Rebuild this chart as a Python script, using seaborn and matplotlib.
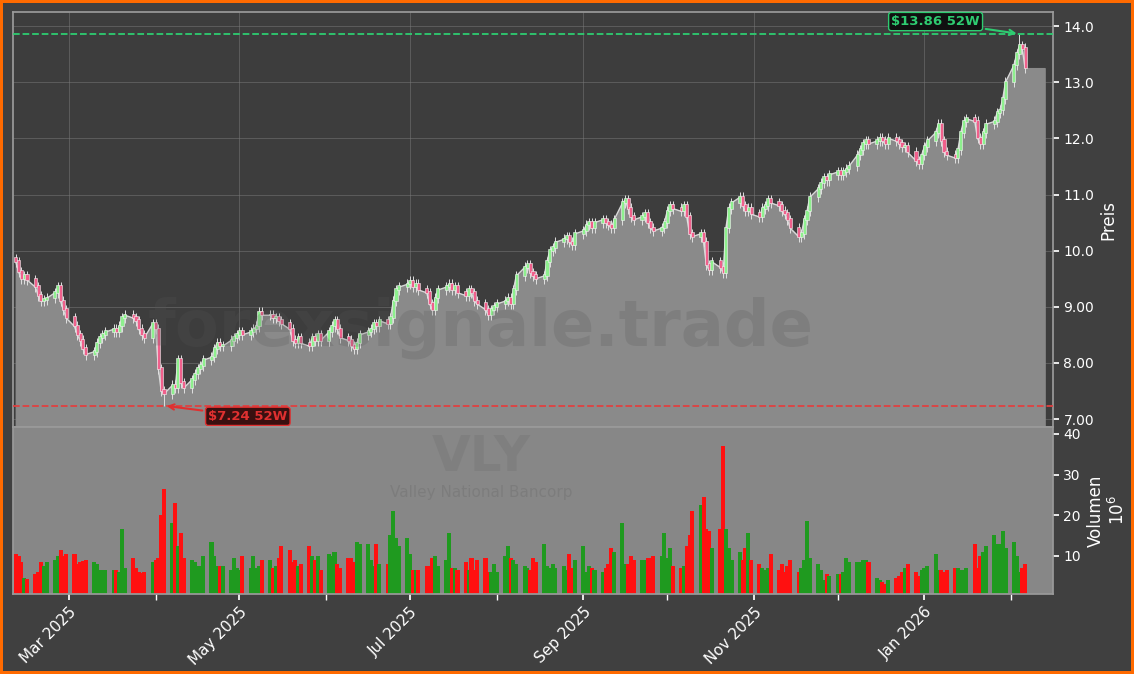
import matplotlib
matplotlib.use("Agg")
import matplotlib.pyplot as plt
import matplotlib.dates as mdates
import matplotlib.ticker as mticker
import numpy as np
import pandas as pd
import seaborn as sns

sns.set_theme(style="dark")
plt.rcParams['font.family'] = ['DejaVu Sans']

# weekly rows of daily closes (Mon-Fri), Feb 10 2025 .. Feb 6 2026
closes = [
    9.80, 9.62, 9.50, 9.55, 9.48,  9.35, 9.20, 9.10, 9.12, 9.15,
    9.25, 9.35, 9.10, 8.95, 8.80,  8.65, 8.50, 8.40, 8.25, 8.15,
    8.20, 8.35, 8.45, 8.50, 8.55,  8.60, 8.55, 8.65, 8.80, 8.85,
    8.80, 8.75, 8.60, 8.50, 8.45,  8.70, 8.60, 7.90, 7.50, 7.45,
    7.60, 7.55, 8.05, 7.65, 7.55,  7.70, 7.80, 7.90, 7.95, 8.05,
    8.10, 8.25, 8.35, 8.30, 8.30,  8.40, 8.45, 8.50, 8.55, 8.50,
    8.55, 8.60, 8.65, 8.90, 8.85,  8.85, 8.80, 8.80, 8.75, 8.70,
    8.60, 8.40, 8.35, 8.45, 8.35,  8.30, 8.45, 8.40, 8.50, 8.40,
    8.55, 8.65, 8.75, 8.60, 8.45,  8.40, 8.30, 8.25, 8.35, 8.50,
    8.55, 8.60, 8.70, 8.65, 8.75,  8.70, 8.80, 9.10, 9.30, 9.35,
    9.40, 9.45, 9.35, 9.40, 9.30,  9.25, 9.05, 8.95, 9.15, 9.30,
    9.35, 9.40, 9.30, 9.35, 9.25,  9.20, 9.30, 9.25, 9.10, 9.05,
    8.95, 8.85, 8.95, 9.00, 9.05,  9.10, 9.15, 9.05, 9.30, 9.55,
    9.70, 9.75, 9.60, 9.55, 9.50,  9.55, 9.80, 10.00, 10.05, 10.15,
    10.20, 10.25, 10.15, 10.10, 10.30,  10.35, 10.45, 10.50, 10.40, 10.50,
    10.55, 10.50, 10.45, 10.40, 10.55,  10.85, 10.90, 10.75, 10.60, 10.55,
    10.60, 10.65, 10.50, 10.40, 10.35,  10.40, 10.50, 10.70, 10.80, 10.75,
    10.70, 10.80, 10.60, 10.30, 10.25,  10.30, 10.15, 9.75, 9.65, 9.80,
    9.70, 9.60, 10.40, 10.75, 10.85,  10.95, 10.80, 10.70, 10.75, 10.65,
    10.60, 10.75, 10.80, 10.90, 10.85,  10.80, 10.70, 10.65, 10.55, 10.40,
    10.25, 10.30, 10.55, 10.70, 10.95,  11.10, 11.20, 11.30, 11.25, 11.35,
    11.40, 11.35, 11.40, 11.45, 11.50,  11.70, 11.80, 11.90, 11.95, 11.90,
    11.95, 12.00, 11.95, 11.90, 12.00,  11.95, 11.90, 11.85, 11.85, 11.75,
    11.60, 11.55, 11.70, 11.85, 11.95,  12.10, 12.25, 11.95, 11.75, 11.70,
    11.65, 11.80, 12.10, 12.30, 12.35,  12.30, 12.00, 11.90, 12.10, 12.25,
    12.30, 12.45, 12.50, 12.70, 13.00,  13.30, 13.50, 13.65, 13.60, 13.25,
]
volumes = [
    10.5, 10.0, 8.5, 4.5, 4.3,  5.5, 6.0, 8.5, 7.5, 8.5,
    9.0, 10.0, 11.5, 10.0, 10.5,  10.5, 8.0, 8.5, 8.8, 9.0,
    8.5, 8.0, 6.5, 6.5, 6.5,  6.5, 6.5, 6.0, 16.5, 7.0,
    9.5, 7.0, 6.0, 5.8, 6.0,  8.5, 9.0, 9.5, 20.0, 26.5,
    18.0, 23.0, 12.5, 15.5, 9.5,  9.0, 8.5, 7.5, 7.5, 10.0,
    13.5, 10.0, 7.5, 7.5, 7.5,  6.5, 9.5, 7.0, 6.5, 10.0,
    7.0, 10.0, 7.0, 7.5, 9.0,  9.0, 7.0, 7.5, 9.5, 12.5,
    11.5, 8.5, 9.0, 7.5, 8.0,  12.5, 10.0, 9.0, 10.0, 6.5,
    10.5, 10.0, 11.0, 8.0, 7.0,  9.5, 9.5, 8.5, 13.5, 13.0,
    13.0, 9.0, 7.5, 13.0, 8.0,  8.0, 15.0, 21.0, 14.5, 12.5,
    14.5, 10.5, 6.5, 6.5, 6.5,  7.5, 7.5, 9.5, 10.0, 7.5,
    9.0, 15.5, 7.0, 7.0, 6.5,  8.5, 6.5, 9.5, 6.5, 9.0,
    9.5, 6.0, 6.0, 8.0, 6.0,  10.0, 12.5, 9.5, 9.0, 8.0,
    7.5, 7.0, 6.5, 9.5, 8.5,  13.0, 7.5, 7.0, 8.0, 7.0,
    7.5, 6.5, 10.5, 7.0, 9.0,  12.5, 6.0, 7.5, 7.0, 6.5,
    6.0, 7.0, 8.0, 12.0, 11.0,  18.0, 8.0, 8.0, 10.0, 9.0,
    9.0, 9.0, 9.5, 9.5, 10.0,  10.0, 15.5, 9.5, 12.0, 7.5,
    7.0, 7.5, 12.5, 15.0, 21.0,  22.5, 24.5, 16.5, 16.0, 12.0,
    16.5, 37.0, 16.5, 12.0, 9.0,  11.0, 9.0, 12.0, 15.5, 9.0,
    8.0, 7.0, 6.5, 7.0, 10.5,  6.5, 8.0, 6.0, 7.5, 9.0,
    6.0, 7.0, 9.0, 18.5, 9.5,  8.0, 6.5, 4.0, 5.5, 5.0,
    5.5, 5.5, 6.0, 9.5, 8.5,  8.5, 8.5, 9.0, 9.0, 8.5,
    4.5, 4.0, 3.5, 3.0, 4.0,  4.5, 5.0, 6.0, 7.0, 8.0,
    6.0, 5.0, 6.5, 7.0, 7.5,  10.5, 6.5, 6.5, 6.0, 6.5,
    7.0, 7.0, 6.5, 6.5, 7.0,  13.0, 7.0, 10.0, 11.0, 12.5,
    15.0, 13.0, 13.0, 16.0, 12.0,  13.5, 10.0, 6.0, 7.0, 8.0,
]
high_52w = 13.86
low_52w = 7.24
price_ticks = [7.0, 8.0, 9.0, 10.0, 11.0, 12.0, 13.0, 14.0]
price_labels = ["7.00", "8.00", "9.00", "10.0", "11.0", "12.0", "13.0", "14.0"]
ticker = "VLY"
company = "Valley National Bancorp"

dates = pd.bdate_range("2025-02-10", periods=len(closes))
close = np.array(closes)
opens = np.r_[close[0] + 0.05, close[:-1]]
up = close >= opens
wick = 0.09
highs = np.maximum(opens, close) + wick
lows = np.minimum(opens, close) - wick
highs[np.argmax(close)] = high_52w
lows[np.argmin(close)] = low_52w

BG = "#3d3d3d"
fig = plt.figure(figsize=(11.34, 6.74), dpi=100, facecolor="#404040")
fig.patch.set_edgecolor("#ff6a00")
fig.patch.set_linewidth(4)
ax = fig.add_axes([13/1134, 247/674, 1040/1134, 415/674])
axv = fig.add_axes([13/1134, 80/674, 1040/1134, 167/674], sharex=ax)

ax.set_facecolor(BG)
x = mdates.date2num(dates)
fx = np.r_[x, x[-1] + 7]
fy = np.r_[close, close[-1]]
ylo, yhi = 6.86, 14.25
ax.fill_between(fx, fy, ylo, color="#8a8a8a", zorder=1)
ax.plot(x, close, color="#d8d8d8", lw=1, zorder=2)
col = np.where(up, "#8ef08e", "#f0608c")
ax.vlines(x, lows, highs, color="#e0e0e0", lw=0.7, zorder=3)
ax.bar(x, np.abs(close - opens) + 0.03, bottom=np.minimum(opens, close), width=1.1,
       color=col, edgecolor="#f4f4f4", linewidth=0.4, zorder=4)

ax.axhline(high_52w, color="#2ecc71", ls="--", lw=1.3, zorder=5)
ax.axhline(low_52w, color="#e04040", ls="--", lw=1.3, zorder=5)
ih = int(np.argmax(highs)); il = int(np.argmin(lows))
ax.annotate(f"${high_52w:.2f} 52W", xy=(x[ih], high_52w), xytext=(x[ih] - 30, 14.08),
            color="#2ecc71", fontsize=9.5, fontweight="bold", ha="center", va="center",
            bbox=dict(boxstyle="round,pad=0.2", fc="#101010", ec="#2ecc71"),
            arrowprops=dict(arrowstyle="->", color="#2ecc71", lw=1.5), zorder=6)
ax.annotate(f"${low_52w:.2f} 52W", xy=(x[il], low_52w), xytext=(x[il] + 30, 7.05),
            color="#e03030", fontsize=9.5, fontweight="bold", ha="center", va="center",
            bbox=dict(boxstyle="round,pad=0.2", fc="#3a1010", ec="#e03030"),
            arrowprops=dict(arrowstyle="->", color="#e03030", lw=1.5), zorder=6)
ax.text(0.45, 0.24, "forexsignale.trade", transform=ax.transAxes, fontsize=46,
        fontweight="bold", color="#555555", alpha=0.22, ha="center", va="center", zorder=5)

ax.set_ylim(ylo, yhi)
ax.set_xlim(x[0] - 1, x[-1] + 10)
ax.yaxis.tick_right()
ax.yaxis.set_label_position("right")
ax.yaxis.set_major_locator(mticker.FixedLocator(price_ticks))
ax.yaxis.set_major_formatter(mticker.FixedFormatter(price_labels))
ax.set_ylabel("Preis", color="white")
ax.tick_params(axis="y", colors="white", labelsize=10, length=4, left=False, right=True)
ax.tick_params(axis="x", labelbottom=False, bottom=False)
ax.grid(True, color="#7a7a7a", lw=0.6, alpha=0.6)
for s in ax.spines.values():
    s.set_color("#9a9a9a")

axv.set_facecolor("#878787")
axv.bar(x, volumes, width=1.45, color=np.where(up, "#1f9a1f", "#ff1010"), linewidth=0, zorder=2)
axv.set_ylim(0.6, 41.7)
axv.yaxis.tick_right()
axv.yaxis.set_label_position("right")
axv.set_yticks([10, 20, 30, 40])
axv.set_ylabel("Volumen\n$10^6$", color="white")
axv.tick_params(axis="y", colors="white", labelsize=10, length=4, left=False, right=True)
axv.text(0.45, 0.82, ticker, transform=axv.transAxes, fontsize=36, fontweight="bold",
         color="#7a7a7a", alpha=0.6, ha="center", va="center")
axv.text(0.45, 0.61, company, transform=axv.transAxes, fontsize=11,
         color="#7a7a7a", alpha=0.8, ha="center", va="center")
axv.xaxis.set_major_locator(mdates.MonthLocator(bymonth=[1, 3, 5, 7, 9, 11]))
axv.xaxis.set_minor_locator(mdates.MonthLocator())
axv.xaxis.set_major_formatter(mdates.DateFormatter("%b %Y"))
axv.tick_params(axis="x", which="both", colors="white", bottom=True, length=4)
plt.setp(axv.get_xticklabels(), rotation=45, ha="right", rotation_mode="anchor")
axv.grid(False)
for s in axv.spines.values():
    s.set_color("#9a9a9a")

fig.savefig("out.png", dpi=100, facecolor=fig.get_facecolor(), edgecolor=fig.get_edgecolor())
